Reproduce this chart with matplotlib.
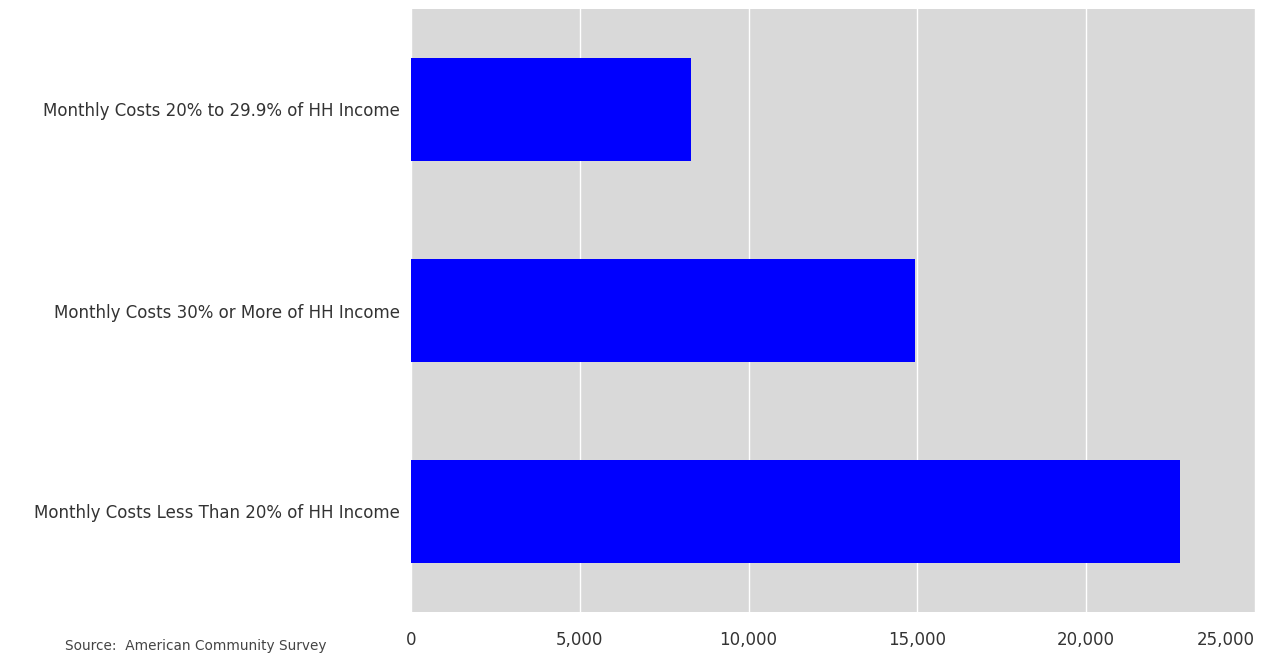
import matplotlib
matplotlib.use("Agg")
import matplotlib.pyplot as plt
from matplotlib.ticker import FuncFormatter

categories = [
    "Monthly Costs 20% to 29.9% of HH Income",
    "Monthly Costs 30% or More of HH Income",
    "Monthly Costs Less Than 20% of HH Income",
]
values = [8290, 14930, 22780]
x_ticks = [0, 5000, 10000, 15000, 20000, 25000]

fig = plt.figure(figsize=(12.68, 6.54), dpi=100)
ax = fig.add_axes([411/1268, 42/654, (1255-411)/1268, (612-9)/654])
ax.set_facecolor("#D9D9D9")
ypos = list(range(len(categories)))
ax.barh(ypos, values, height=0.51, color="#0000FF", zorder=3)
ax.set_yticks(ypos)
ax.set_yticklabels(categories, fontsize=12, color="#333333")
ax.set_ylim(len(categories) - 0.5, -0.5)
ax.set_xlim(0, 25000)
ax.set_xticks(x_ticks)
ax.xaxis.set_major_formatter(FuncFormatter(lambda v, p: f"{int(v):,}"))
ax.tick_params(axis="x", labelsize=12, colors="#333333", length=0, pad=14)
ax.tick_params(axis="y", length=0, pad=8)
ax.get_xticklabels()[-1].set_horizontalalignment("right")
ax.grid(axis="x", color="white", linewidth=1, zorder=1)
ax.set_axisbelow(True)
for s in ax.spines.values():
    s.set_visible(False)

fig.text(65/1268, 1/654, "Source:  American Community Survey", fontsize=9.8,
         color="#444444", va="bottom", ha="left")
fig.savefig("out.png", dpi=100)
